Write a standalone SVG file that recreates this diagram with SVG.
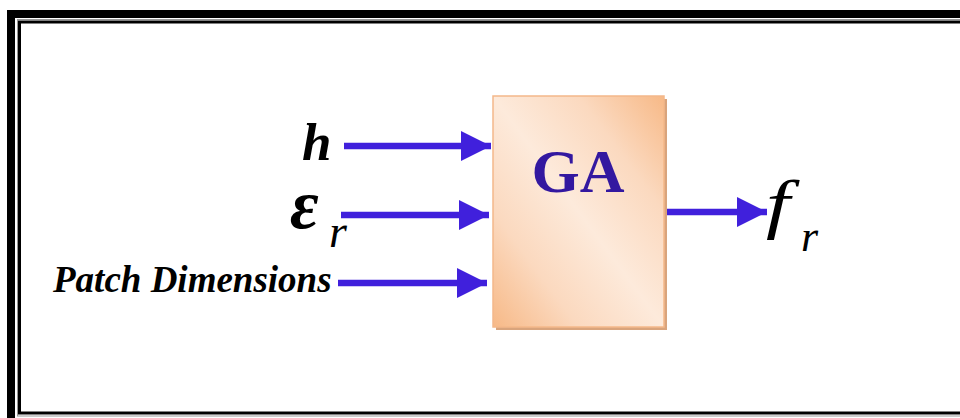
<svg xmlns="http://www.w3.org/2000/svg" width="960" height="418" viewBox="0 0 960 418">
<defs>
<linearGradient id="gaFill" x1="1" y1="0" x2="0" y2="1">
<stop offset="0" stop-color="#f7b987"/>
<stop offset="0.25" stop-color="#fbd9bf"/>
<stop offset="0.5" stop-color="#fdeadb"/>
<stop offset="0.75" stop-color="#fbd9bf"/>
<stop offset="1" stop-color="#f7b987"/>
</linearGradient>
<marker id="arrow" viewBox="0 0 30 30" refX="30" refY="15" markerWidth="30" markerHeight="30" markerUnits="userSpaceOnUse" orient="auto">
<path d="M0,0 L30,15 L0,30 Z" fill="#4020dc"/>
</marker>
<style>
.line{stroke:#4020dc;stroke-width:6.5;fill:none}
.lbl{font-family:"Liberation Serif","Times New Roman",serif;fill:#000}
</style>
</defs>
<rect x="0" y="0" width="960" height="418" fill="#fff"/>
<g id="frame">
<rect x="11" y="14" width="970" height="420" fill="none" stroke="#000" stroke-width="8"/>
<rect x="19.5" y="22" width="960" height="391" fill="none" stroke="#000" stroke-width="3"/>
<rect x="17.5" y="19.5" width="960" height="396.5" fill="none" stroke="#999" stroke-width="1"/>
</g>
<g id="connectors">
<line class="line" x1="344" y1="146" x2="491" y2="146" marker-end="url(#arrow)"/>
<line class="line" x1="341" y1="215" x2="489" y2="215" marker-end="url(#arrow)"/>
<line class="line" x1="338" y1="283" x2="487" y2="283" marker-end="url(#arrow)"/>
<line class="line" x1="663" y1="212" x2="767" y2="212" marker-end="url(#arrow)"/>
</g>
<g id="node-ga">
<rect x="496" y="99" width="171" height="231" fill="#d9a47c"/>
<rect x="493" y="96" width="171" height="231" fill="url(#gaFill)" stroke="#f4b88a" stroke-width="1.5"/>
<text x="578" y="192" text-anchor="middle" font-family="Liberation Serif, serif" font-weight="bold" font-size="62" fill="#3318a0">GA</text>
</g>
<g id="label-h">
<text class="lbl" x="302" y="160" font-size="53" font-weight="bold" font-style="italic">h</text>
</g>
<g id="label-er">
<text class="lbl" x="290" y="228" font-size="70" font-weight="bold" font-style="italic">ε</text>
<text class="lbl" x="329" y="247" font-size="46" font-style="italic">r</text>
</g>
<g id="label-patch">
<text class="lbl" x="53" y="292" font-size="37" font-weight="bold" font-style="italic">Patch Dimensions</text>
</g>
<g id="label-fr">
<text class="lbl" font-size="66" font-style="italic" transform="translate(766 226) scale(1.3 1)">f</text>
<text class="lbl" x="801" y="251" font-size="44" font-style="italic">r</text>
</g>
</svg>
